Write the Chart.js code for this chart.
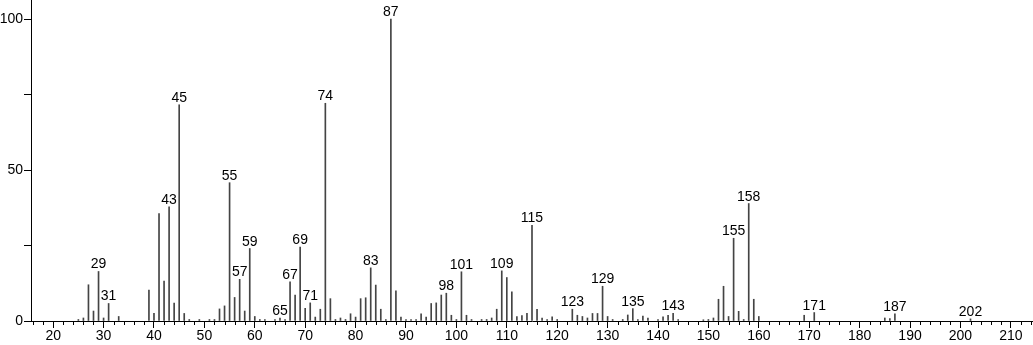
<!DOCTYPE html>
<html>
<head>
<meta charset="utf-8">
<script src="https://cdn.jsdelivr.net/npm/chart.js@4/dist/chart.umd.min.js"></script>
<style>
  html, body { margin: 0; padding: 0; background: #fff; }
  #wrap { width: 1033px; height: 345px; position: relative; }
</style>
</head>
<body>
<div id="wrap"><canvas id="spectrum"></canvas></div>
<script>
// m/z values and relative intensities
const mz = [25, 26, 27, 28, 29, 30, 31, 33, 39, 40, 41, 42, 43, 44, 45, 46, 47, 49, 51, 52,
  53, 54, 55, 56, 57, 58, 59, 60, 61, 62, 64, 65, 66, 67, 68, 69, 70, 71, 72, 73,
  74, 75, 76, 77, 78, 79, 80, 81, 82, 83, 84, 85, 86, 87, 88, 89, 90, 91, 92, 93,
  94, 95, 96, 97, 98, 99, 100, 101, 102, 103, 105, 106, 107, 108, 109, 110, 111, 112, 113, 114,
  115, 116, 117, 118, 119, 120, 123, 124, 125, 126, 127, 128, 129, 130, 131, 133, 134, 135, 136, 137,
  138, 140, 141, 142, 143, 144, 149, 150, 151, 152, 153, 154, 155, 156, 157, 158, 159, 160, 169, 171,
  185, 186, 187, 202];
const intensity = [0.5, 1, 12.0, 3.3, 16.4, 1, 5.8, 1.5, 10.2, 2.5, 35.6, 13.2, 37.8, 5.9, 71.6, 2.5, 0.5, 0.5, 0.5, 0.5,
  4.0, 5.0, 45.8, 7.8, 13.8, 3.3, 24.0, 1.5, 0.5, 0.5, 0.5, 1, 0.5, 13.0, 8.6, 24.5, 4.2, 6.0, 1.3, 3.9,
  72.1, 7.4, 0.5, 1, 0.5, 2.4, 1.3, 7.4, 7.7, 17.6, 11.9, 3.9, 0.5, 100, 10.0, 1.3, 0.5, 0.5, 0.5, 2.4,
  1.3, 5.8, 6.0, 8.6, 9.2, 1.9, 0.5, 16.3, 1.9, 0.5, 0.5, 0.5, 1, 3.9, 16.6, 14.4, 9.7, 1.5, 1.8, 2.5,
  31.7, 3.9, 1, 0.5, 1.4, 0.5, 3.9, 1.9, 1.5, 1, 2.5, 2.5, 11.5, 1.5, 0.5, 0.5, 2.0, 4.1, 0.5, 1.6,
  1, 0.5, 1.4, 1.9, 2.5, 0.5, 0.4, 0.5, 1, 7.2, 11.5, 1.5, 27.4, 3.2, 0.5, 38.9, 7.2, 1.5, 1.9, 2.8,
  1, 0.8, 2.4, 0.7];
const labeledPeaks = [29, 31, 43, 45, 55, 57, 59, 65, 67, 69, 71, 74, 83, 87, 98, 101,
  109, 115, 123, 129, 135, 143, 155, 158, 171, 187, 202];
const yLabels = [0, 50, 100];

const FAMILY = '"Liberation Sans", Arial, sans-serif';

const peakLabels = {
  id: 'peakLabels',
  afterDatasetsDraw(chart) {
    const ctx = chart.ctx;
    const xs = chart.scales.x, ys = chart.scales.y;
    ctx.save();
    ctx.font = '14px ' + FAMILY;
    ctx.fillStyle = '#000';
    ctx.textAlign = 'center';
    ctx.textBaseline = 'alphabetic';
    labeledPeaks.forEach(m => {
      const i = mz.indexOf(m);
      if (i < 0) return;
      ctx.fillText(String(m), xs.getPixelForValue(m), ys.getPixelForValue(intensity[i]) - 3);
    });
    ctx.restore();
  }
};

// short ticks every 2 units on the m/z axis
const minorTicks = {
  id: 'minorTicks',
  afterDraw(chart) {
    const ctx = chart.ctx;
    const xs = chart.scales.x;
    const y0 = chart.chartArea.bottom;
    ctx.save();
    ctx.strokeStyle = '#000';
    ctx.lineWidth = 1;
    ctx.beginPath();
    for (let v = 16; v <= 214; v += 2) {
      if (v % 10 === 0) continue;
      const x = Math.round(xs.getPixelForValue(v)) + 0.5;
      ctx.moveTo(x, y0);
      ctx.lineTo(x, y0 + 4);
    }
    ctx.stroke();
    ctx.restore();
  }
};

new Chart(document.getElementById('spectrum'), {
  type: 'bar',
  data: {
    datasets: [{
      data: mz.map((m, i) => ({ x: m, y: intensity[i] })),
      backgroundColor: '#444',
      barThickness: 1,
      grouped: false
    }]
  },
  options: {
    responsive: true,
    maintainAspectRatio: false,
    animation: false,
    layout: { padding: 0 },
    plugins: { legend: { display: false }, tooltip: { enabled: false } },
    scales: {
      x: {
        type: 'linear',
        offset: false,
        min: 15.6,
        max: 214.4,
        afterBuildTicks: s => {
          const t = [];
          for (let v = 20; v <= 210; v += 10) t.push({ value: v });
          s.ticks = t;
        },
        afterFit: s => { s.height = 24; s.paddingLeft = 0; s.paddingRight = 0; },
        ticks: { color: '#000', font: { family: FAMILY, size: 14 }, padding: 0, maxRotation: 0, autoSkip: false },
        grid: { offset: false, drawOnChartArea: false, tickLength: 7, tickColor: '#000' },
        border: { color: '#000', width: 1 }
      },
      y: {
        min: 0,
        max: 106.3,
        afterBuildTicks: s => { s.ticks = [0, 25, 50, 75, 100].map(v => ({ value: v })); },
        afterFit: s => { s.width = 31; s.paddingTop = 0; s.paddingBottom = 0; },
        ticks: {
          color: '#000',
          font: { family: FAMILY, size: 14 },
          padding: 1,
          callback: v => yLabels.includes(v) ? String(v) : ''
        },
        grid: { drawOnChartArea: false, tickLength: 7, tickColor: '#000' },
        border: { color: '#000', width: 1 }
      }
    }
  },
  plugins: [peakLabels, minorTicks]
});
</script>
</body>
</html>
